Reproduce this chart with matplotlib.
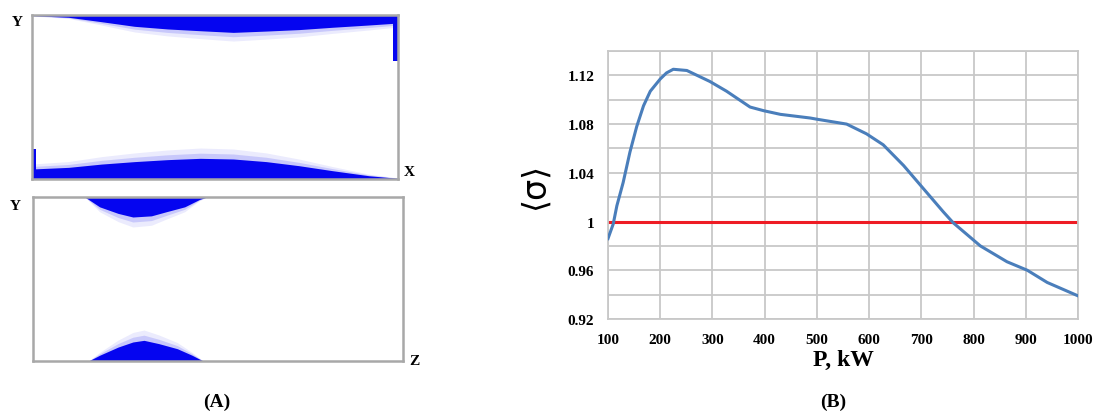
import matplotlib.pyplot as plt
import numpy as np

# Panel (B) curve
power_kw = [100, 110, 117, 129, 142, 155, 168, 181, 200, 212, 225, 251, 295,
            327, 372, 398, 430, 487, 500, 557, 595, 627, 666, 698, 742, 761,
            813, 864, 903, 941, 1000]
sigma_mean = [0.986, 0.998, 1.013, 1.032, 1.057, 1.078, 1.095, 1.107, 1.117,
              1.122, 1.125, 1.124, 1.115, 1.107, 1.094, 1.091, 1.088, 1.085,
              1.084, 1.080, 1.072, 1.063, 1.046, 1.030, 1.008, 0.999, 0.980,
              0.967, 0.960, 0.950, 0.939]
x_ticks = [100, 200, 300, 400, 500, 600, 700, 800, 900, 1000]
y_ticks = [0.92, 0.96, 1.0, 1.04, 1.08, 1.12]
y_tick_labels = ['0.92', '0.96', '1', '1.04', '1.08', '1.12']

# Panel (A) trajectory bands: thickness as fraction of the box height
xy_pos = [0.0, 0.1, 0.19, 0.28, 0.37, 0.46, 0.55, 0.64, 0.73, 0.82, 0.92, 1.0]
xy_top = [0.004, 0.014, 0.041, 0.069, 0.085, 0.096, 0.106, 0.098, 0.089, 0.075, 0.061, 0.049]
xy_bottom = [0.061, 0.071, 0.091, 0.106, 0.118, 0.126, 0.122, 0.106, 0.081, 0.051, 0.02, 0.004]
yz_top_pos = [0.14, 0.18, 0.23, 0.27, 0.32, 0.36, 0.41, 0.45, 0.47]
yz_top = [0.0, 0.06, 0.10, 0.122, 0.115, 0.09, 0.06, 0.015, 0.0]
yz_bot_pos = [0.15, 0.18, 0.23, 0.27, 0.30, 0.34, 0.39, 0.43, 0.46]
yz_bottom = [0.0, 0.035, 0.085, 0.116, 0.126, 0.106, 0.075, 0.035, 0.0]

BLUE = '#0505f0'
BOX = '#a8a8a8'
W, H = 1096, 414

fig = plt.figure(figsize=(W / 100, H / 100), dpi=100)


def px_axes(x0, y0, x1, y1):
    return fig.add_axes([x0 / W, 1 - y1 / H, (x1 - x0) / W, (y1 - y0) / H])


def box_style(ax):
    ax.set_xlim(0, 1)
    ax.set_ylim(0, 1)
    ax.set_xticks([])
    ax.set_yticks([])
    for s in ax.spines.values():
        s.set_color(BOX)
        s.set_linewidth(1.8)


def band(ax, pos, thick, top):
    pos = np.array(pos)
    thick = np.array(thick)
    for scale, alpha in [(1.5, 0.08), (1.25, 0.15), (1.0, 1.0)]:
        t = thick * scale
        if top:
            ax.fill_between(pos, 1 - t, 1, color=BLUE, alpha=alpha, lw=0)
        else:
            ax.fill_between(pos, 0, t, color=BLUE, alpha=alpha, lw=0)


# (A) top box: XY projection
ax1 = px_axes(32, 16, 398, 180)
box_style(ax1)
band(ax1, xy_pos, xy_top, True)
band(ax1, xy_pos, xy_bottom, False)
ax1.fill_between([0.985, 1.0], [0.72, 0.72], [1, 1], color=BLUE, lw=0)
ax1.fill_between([0.0, 0.012], [0, 0], [0.18, 0.18], color=BLUE, lw=0)
fig.text(12 / W, 1 - 22 / H, 'Y', fontsize=11, fontweight='bold',
         family='Liberation Serif', ha='left', va='center')
fig.text(404 / W, 1 - 172 / H, 'X', fontsize=11, fontweight='bold',
         family='Liberation Serif', ha='left', va='center')

# (A) bottom box: YZ projection
ax2 = px_axes(33, 198, 403, 362)
box_style(ax2)
band(ax2, yz_top_pos, yz_top, True)
band(ax2, yz_bot_pos, yz_bottom, False)
fig.text(10 / W, 1 - 207 / H, 'Y', fontsize=11, fontweight='bold',
         family='Liberation Serif', ha='left', va='center')
fig.text(409 / W, 1 - 362 / H, 'Z', fontsize=11, fontweight='bold',
         family='Liberation Serif', ha='left', va='center')
fig.text(217 / W, 1 - 402 / H, '(A)', fontsize=14, fontweight='bold',
         family='Liberation Serif', ha='center', va='center')

# (B) line chart
ax3 = px_axes(608, 52, 1078, 320)
ax3.plot(power_kw, sigma_mean, color='#4a7ebb', lw=2.2, zorder=3,
         solid_joinstyle='round')
ax3.plot([100, 1000], [1, 1], color='#ee1c24', lw=2.2, zorder=2)
ax3.set_xlim(100, 1000)
ax3.set_ylim(0.92, 1.14)
ax3.set_xticks(x_ticks)
ax3.set_yticks(y_ticks)
ax3.set_yticklabels(y_tick_labels)
ax3.set_yticks(np.arange(0.92, 1.141, 0.02), minor=True)
ax3.grid(True, which='both', color='#c8c8c8', lw=1.3)
ax3.tick_params(which='both', length=0)
ax3.tick_params(axis='x', pad=10)
ax3.tick_params(axis='y', pad=10)
for lab in ax3.get_xticklabels() + ax3.get_yticklabels():
    lab.set_fontfamily('Liberation Serif')
    lab.set_fontweight('bold')
    lab.set_fontsize(11)
for s in ax3.spines.values():
    s.set_color('#c8c8c8')
    s.set_linewidth(1.3)
ax3.set_xlabel('P, kW', fontsize=17, fontweight='bold', family='Liberation Serif',
               labelpad=2)
ax3.set_ylabel('\u27e8\u03c3\u27e9', fontsize=24, family=['DejaVu Sans', 'Noto Sans'],
               labelpad=12)
fig.text(833 / W, 1 - 402 / H, '(B)', fontsize=14, fontweight='bold',
         family='Liberation Serif', ha='center', va='center')

fig.savefig('out.png', dpi=100)
